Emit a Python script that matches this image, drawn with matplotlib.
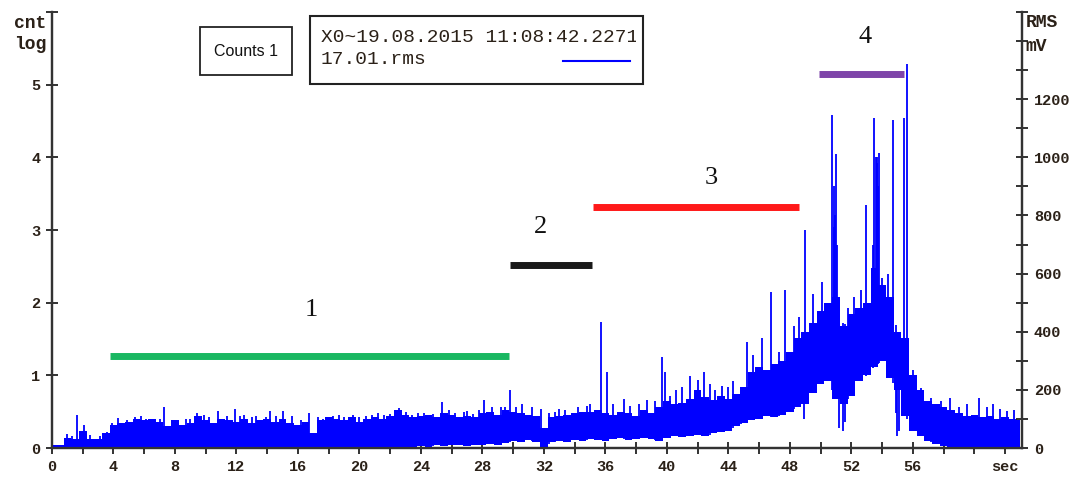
import numpy as np
import matplotlib.pyplot as plt
from matplotlib.patches import Rectangle
from matplotlib.lines import Line2D
import matplotlib.transforms as mtransforms

# RMS signal every 0.5 s (mV): upper and lower edge of the band
t = np.arange(0, 63.01, 0.5)
hi = [12, 12, 35, 30, 60, 30, 30, 50, 80, 85,
      90, 100, 95, 100, 90, 75, 95, 80, 85, 110,
      95, 85, 100, 95, 90, 100, 85, 95, 100, 90,
      100, 85, 80, 90, 50, 95, 105, 100, 95, 105,
      90, 100, 105, 100, 110, 130, 115, 105, 110, 115,
      105, 120, 115, 105, 110, 105, 120, 125, 115, 130,
      125, 120, 115, 110, 70, 105, 110, 115, 120, 125,
      125, 130, 120, 115, 125, 120, 110, 130, 120, 140,
      160, 150, 155, 170, 200, 175, 165, 180, 170, 185,
      210, 260, 280, 270, 290, 300, 330, 380, 400, 430,
      470, 500, 520, 420, 460, 480, 500, 620, 560, 520,
      400, 380, 250, 200, 160, 150, 140, 130, 120, 110,
      115, 105, 110, 100, 105, 100, 95]
lo = [0, 0, 0, 0, 0, 0, 0, 0, 0, 0,
      0, 0, 0, 0, 0, 0, 0, 0, 0, 0,
      0, 0, 0, 0, 0, 0, 0, 0, 0, 0,
      0, 0, 0, 0, 0, 0, 0, 0, 0, 0,
      0, 0, 0, 0, 0, 0, 3, 5, 8, 5,
      10, 8, 12, 10, 8, 12, 10, 15, 12, 18,
      25, 22, 28, 20, 5, 20, 25, 22, 28, 25,
      30, 28, 25, 30, 35, 28, 30, 35, 30, 25,
      35, 40, 38, 42, 45, 40, 50, 55, 60, 75,
      85, 95, 100, 110, 105, 115, 125, 140, 150, 190,
      220, 230, 170, 150, 180, 230, 250, 280, 300, 240,
      200, 110, 60, 40, 25, 15, 8, 5, 5, 5,
      5, 5, 5, 5, 5, 5, 5]

# single upward spikes (s, mV)
spike_t = [1.0, 1.6, 2.1, 3.6, 4.3, 4.9, 5.4, 6.1, 6.6, 7.3, 8.2, 8.7, 9.4, 10.2,
           10.8, 11.4, 11.9, 12.5, 13.3, 13.9, 14.2, 15.0, 15.6, 16.7, 17.6, 18.3,
           19.0, 19.6, 20.4, 21.2, 22.0, 22.6, 23.4, 24.2, 24.8, 25.4, 26.2, 26.8,
           27.4, 28.1, 28.6, 29.2, 29.8, 30.6, 31.2, 31.8, 32.7, 33.4, 34.2, 34.8,
           35.7, 36.1, 37.2, 38.2, 38.7, 39.7, 39.9, 40.6, 41.0, 41.5, 42.0, 42.4,
           43.1, 43.6, 44.3, 44.8, 45.2, 45.6, 46.2, 46.75, 47.3, 47.7, 48.3, 48.6,
           49.0, 49.5, 50.1, 50.76, 51.0, 51.8, 52.2, 52.6, 52.97, 53.5, 53.8, 54.0,
           54.4, 54.7, 55.4, 55.6, 56.0, 56.5, 57.2, 57.8, 58.4, 59.0, 59.5, 60.3,
           60.8, 61.2, 61.7, 62.1, 62.6,
           0.95, 1.3, 2.5, 3.1, 3.9, 5.8, 7.0, 7.8, 9.0, 9.9, 12.2, 13.0, 14.6,
           16.2, 17.3, 18.7, 20.0, 20.8, 21.6, 23.0, 23.8, 25.8, 27.0, 27.8, 29.5,
           30.2, 32.3, 33.0, 35.0, 36.5, 37.6, 39.2, 40.2, 42.8, 44.0,
           50.85, 50.9, 50.95, 51.05, 53.4, 53.6, 53.65, 53.7, 53.75]
spike_v = [48, 112, 79, 55, 103, 95, 105, 100, 98, 142, 95, 100, 120, 105,
           127, 110, 135, 115, 110, 105, 127, 127, 110, 120, 100, 110,
           105, 115, 110, 120, 118, 139, 115, 120, 118, 159, 120, 125,
           118, 166, 142, 140, 200, 150, 140, 135, 125, 130, 140, 145,
           432, 260, 170, 150, 165, 314, 260, 200, 210, 248, 235, 262,
           200, 215, 231, 210, 363, 320, 380, 536, 330, 542, 420, 450,
           749, 531, 570, 1145, 1011, 480, 520, 542, 835, 1135, 1015, 584,
           600, 1128, 1135, 1321, 270, 208, 172, 160, 172, 140, 150, 172,
           140, 150, 135, 128, 130,
           25, 40, 45, 40, 85, 110, 100, 95, 100, 115, 110, 108, 110,
           95, 105, 115, 105, 112, 115, 125, 120, 130, 128, 130, 140,
           140, 120, 135, 150, 150, 145, 160, 180, 220, 210,
           900, 760, 800, 700, 700, 1000, 980, 1000, 900]

# single downward dips below the band (s, mV)
dip_t = [48.9, 51.2, 51.45, 51.6, 54.9, 55.0, 55.1]
dip_v = [100, 70, 60, 90, 120, 40, 60]

# numbered intervals (s) and their level on the cnt log axis
seg_start = [3.8, 29.8, 35.2, 49.9]
seg_end = [29.7, 35.1, 48.6, 55.4]
seg_level = [1.26, 2.52, 3.32, 5.14]
seg_color = ['#00b050', '#000000', '#ff0000', '#7030a0']
seg_label = ['1', '2', '3', '4']
label_x = [16.9, 31.8, 42.9, 52.9]
label_y = [1.90, 3.04, 3.72, 5.65]

W, H = 1074, 478
fig = plt.figure(figsize=(W / 100, H / 100), dpi=100)
ax = fig.add_axes([52 / W, 1 - 448 / H, 970 / W, 436 / H])
axr = ax.twinx()

blue = '#0000ff'
axr.fill_between(t, lo, hi, step='mid', color=blue, lw=0)
axr.vlines(spike_t, np.interp(spike_t, t, lo), spike_v, color=blue, lw=1.3)
axr.vlines(dip_t, dip_v, np.interp(dip_t, t, hi), color=blue, lw=1.3)

for s0, s1, lv, c in zip(seg_start, seg_end, seg_level, seg_color):
    ax.plot([s0, s1], [lv, lv], color=c, lw=5, solid_capstyle='butt', alpha=0.9)
for lb, x, y in zip(seg_label, label_x, label_y):
    ax.text(x, y, lb, ha='center', va='center', fontsize=19,
            family='Liberation Serif', color='#111111')

ax.set_xlim(0, 63.1)
ax.set_ylim(0, 6)
axr.set_ylim(0, 1500)

tc = '#2b2118'
font = dict(family='Liberation Mono', weight='bold', size=11)
ax.set_xticks(range(0, 63, 2), minor=True)
ax.set_xticks(list(range(0, 57, 4)) + [62])
ax.set_xticklabels([str(v) for v in range(0, 57, 4)] + ['sec'], **font, color=tc)
ax.set_yticks(range(7))
ax.set_yticklabels([str(v) for v in range(6)] + [''], **font, color=tc)
axr.set_yticks(range(0, 1501, 100))
axr.set_yticklabels([str(v) if v % 200 == 0 and v <= 1200 else '' for v in range(0, 1501, 100)],
                    **font, color=tc)

for a in (ax, axr):
    a.tick_params(which='both', direction='inout', length=9, width=1.3, color='#222222')
    a.tick_params(axis='x', which='both', pad=4)
    for side in ('left', 'right', 'bottom'):
        a.spines[side].set_linewidth(1.6)
        a.spines[side].set_color('#333333')
    a.spines['top'].set_visible(False)
ax.tick_params(axis='y', pad=4)
axr.tick_params(axis='y', pad=4)

unit = dict(family='Liberation Mono', weight='bold', size=13, color=tc)
trl = mtransforms.blended_transform_factory(ax.transAxes, ax.transData)
ax.text(-0.006, 5.84, 'cnt', transform=trl, ha='right', va='center', **unit)
ax.text(-0.006, 5.55, 'log', transform=trl, ha='right', va='center', **unit)
trr = mtransforms.blended_transform_factory(axr.transAxes, axr.transData)
axr.text(1.004, 1463, 'RMS', transform=trr, ha='left', va='center', **unit)
axr.text(1.004, 1383, 'mV', transform=trr, ha='left', va='center', **unit)


def px(x, y):
    return x / W, 1 - y / H


# legend boxes
b1 = Rectangle(px(200, 75), 92 / W, 48 / H, transform=fig.transFigure,
               fill=False, lw=1.3, ec='#222222')
fig.add_artist(b1)
fig.text(*px(246, 51), 'Counts 1', ha='center', va='center',
         family='Liberation Sans', fontsize=11.5, color='#111111')

b2 = Rectangle(px(310, 84), 333 / W, 68 / H, transform=fig.transFigure,
               fill=False, lw=1.5, ec='#222222')
fig.add_artist(b2)
clip = Rectangle(px(310, 84), 326 / W, 68 / H, transform=fig.transFigure,
                 fill=False, lw=0)
t1 = fig.text(*px(321, 38), 'X0~19.08.2015 11:08:42.2271', ha='left', va='center',
              family='Liberation Mono', fontsize=14, color=tc)
t1.set_clip_path(clip)
fig.text(*px(321, 60), '17.01.rms', ha='left', va='center',
         family='Liberation Mono', fontsize=14, color=tc)
fig.add_artist(Line2D([563 / W, 630 / W], [1 - 61 / H, 1 - 61 / H],
                      transform=fig.transFigure, color=blue, lw=1.5))

fig.savefig('out.png', dpi=100)
